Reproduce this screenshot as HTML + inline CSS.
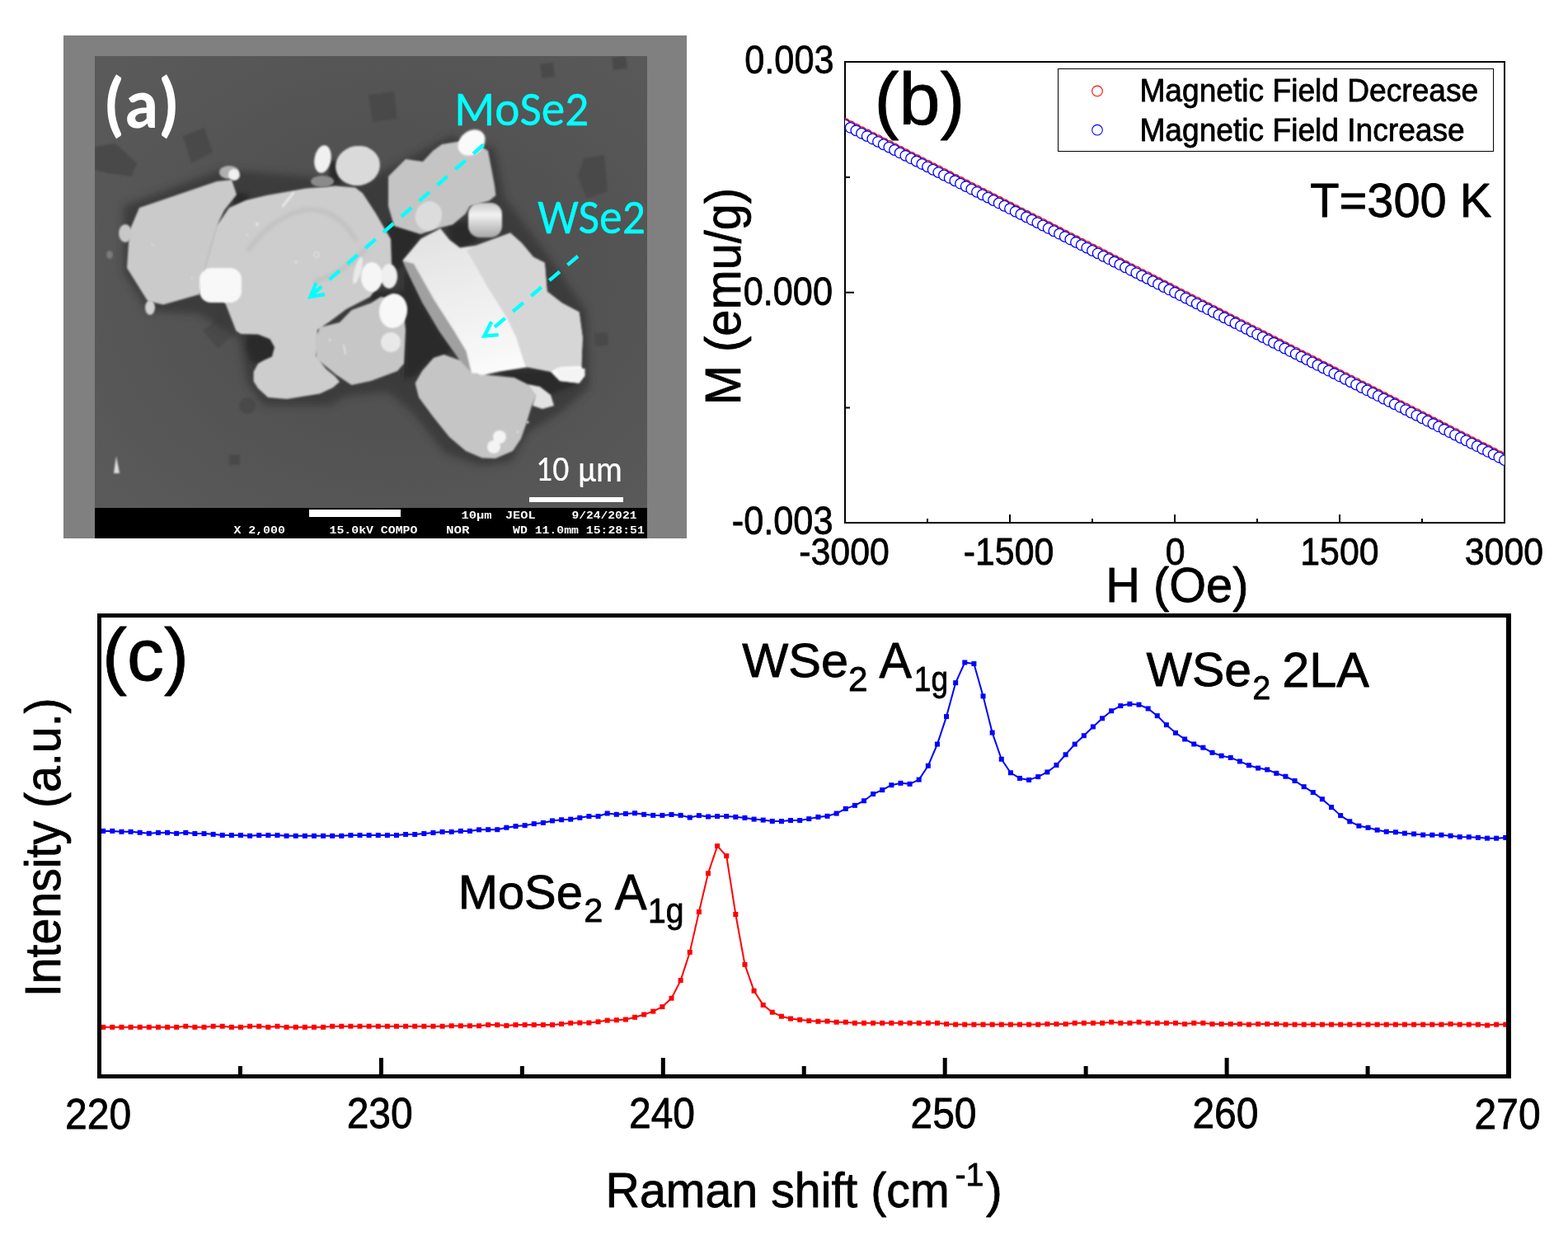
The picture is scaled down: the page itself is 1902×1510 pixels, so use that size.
<!DOCTYPE html>
<html><head><meta charset="utf-8"><title>figure</title><style>html,body{margin:0;padding:0;background:#fff;}svg{display:block;}</style></head><body>
<svg width="1902" height="1510" viewBox="0 0 1902 1510">
<rect width="1902" height="1510" fill="#fff"/>
<defs>
<clipPath id="clipb"><rect x="1025" y="75" width="800" height="559"/></clipPath>
<clipPath id="clipc"><rect x="120.5" y="746" width="1709" height="560"/></clipPath>
<clipPath id="clipa"><rect x="115" y="68" width="670" height="548"/></clipPath>
<filter id="bl1" x="-20%" y="-20%" width="140%" height="140%"><feGaussianBlur stdDeviation="1.1"/></filter>
<filter id="bl2" x="-30%" y="-30%" width="160%" height="160%"><feGaussianBlur stdDeviation="2.5"/></filter>
<filter id="bl4" x="-50%" y="-50%" width="200%" height="200%"><feGaussianBlur stdDeviation="5"/></filter>
</defs>
<rect x="77" y="43" width="756" height="610" fill="#808080"/>
<rect x="115" y="68" width="670" height="585" fill="#575757"/>
<g clip-path="url(#clipa)"><defs><linearGradient id="gE" x1="0" y1="0" x2="0.3" y2="1"><stop offset="0" stop-color="#e0e0e0"/><stop offset="0.5" stop-color="#eeeeee"/><stop offset="1" stop-color="#fbfbfb"/></linearGradient><linearGradient id="gW8" x1="0" y1="0" x2="0" y2="1"><stop offset="0" stop-color="#c8c8c8"/><stop offset="0.35" stop-color="#f2f2f2"/><stop offset="0.7" stop-color="#c8c8c8"/><stop offset="1" stop-color="#a8a8a8"/></linearGradient><radialGradient id="gBG" cx="0.55" cy="0.5" r="0.7"><stop offset="0" stop-color="#4c4c4c"/><stop offset="0.6" stop-color="#545454"/><stop offset="1" stop-color="#5a5a5a"/></radialGradient></defs>
<rect x="115" y="68" width="670" height="548" fill="url(#gBG)"/>
<g fill="#4a4a4a" filter="url(#bl1)"><polygon points="222.0,165.0 248.0,155.0 258.0,185.0 232.0,198.0"/><polygon points="447.0,115.0 478.0,111.0 482.0,144.0 452.0,148.0"/><polygon points="655.0,78.0 671.0,76.0 673.0,93.0 657.0,95.0"/><polygon points="708.0,192.0 733.0,188.0 737.0,232.0 712.0,241.0 701.0,215.0"/><polygon points="742.0,70.0 759.0,68.0 761.0,83.0 744.0,85.0"/><polygon points="246.0,401.0 266.0,384.0 285.0,404.0 265.0,423.0"/><polygon points="721.0,404.0 737.0,403.0 738.0,419.0 722.0,420.0"/><polygon points="278.0,552.0 291.0,551.0 291.0,564.0 278.0,564.0"/><polygon points="115.0,178.0 140.0,174.0 166.0,198.0 160.0,214.0 130.0,210.0 115.0,206.0"/><circle cx="300" cy="492" r="10"/></g>
<polygon points="150.0,250.0 270.0,205.0 380.0,215.0 440.0,222.0 470.0,205.0 545.0,165.0 600.0,180.0 612.0,240.0 665.0,310.0 712.0,378.0 715.0,470.0 680.0,500.0 640.0,525.0 620.0,560.0 585.0,565.0 540.0,550.0 500.0,500.0 470.0,475.0 420.0,480.0 400.0,492.0 320.0,492.0 300.0,465.0 290.0,410.0 240.0,380.0 180.0,378.0 150.0,330.0" fill="#363636" filter="url(#bl4)" opacity="0.75"/>
<g fill="#2c2c2c" filter="url(#bl2)"><polygon points="470.0,268.0 505.0,272.0 512.0,282.0 494.0,320.0 480.0,330.0 472.0,320.0"/><polygon points="490.0,328.0 497.0,335.0 512.8,367.6 533.0,401.4 548.8,424.0 538.0,432.0 520.0,440.0 505.0,455.0 490.0,460.0 490.0,400.0"/><polygon points="600.0,448.0 672.0,448.0 700.0,466.0 660.0,482.0 630.0,470.0"/><polygon points="300.0,404.0 325.0,406.0 338.0,420.0 335.0,438.0 318.0,444.0 304.0,438.0 298.0,420.0"/><polygon points="542.0,270.0 574.0,268.0 580.0,292.0 560.0,300.0 546.0,292.0"/><polygon points="283.0,232.0 302.0,236.0 298.0,252.0 283.0,252.0"/><polygon points="398.0,195.0 414.0,195.0 414.0,224.0 400.0,224.0"/><polygon points="440.0,355.0 495.0,352.0 495.0,362.0 450.0,364.0"/></g>
<g filter="url(#bl1)"><polygon points="169.0,252.0 263.0,220.0 281.0,218.0 287.0,236.0 272.0,255.0 263.0,274.0 253.0,310.0 248.0,327.0 242.0,357.0 198.0,369.5 179.0,365.0 154.0,325.0 157.0,280.0" fill="#cacaca"/><polygon points="278.0,252.0 298.0,243.0 323.0,237.0 371.0,228.6 407.0,225.6 431.0,227.4 440.0,234.6 456.0,259.0 468.0,280.0 474.0,290.0 475.0,320.0 470.0,330.0 449.0,360.0 420.0,375.0 400.0,390.0 385.0,400.0 383.0,432.0 396.0,448.0 406.0,456.0 412.0,463.0 404.0,470.0 388.0,477.6 348.0,484.0 325.0,482.0 313.0,471.0 307.6,462.4 307.6,451.0 313.0,441.0 320.0,437.0 330.0,432.5 333.0,421.0 327.5,411.2 313.0,405.6 292.0,405.0 286.4,401.3 274.0,369.5 248.0,327.0 253.0,310.0 263.0,274.0" fill="#cdcdcd"/><polygon points="388.0,397.0 412.0,391.0 426.5,376.0 450.0,367.4 462.0,360.0 488.0,365.0 492.0,400.0 490.0,441.0 482.0,450.0 450.0,462.0 426.5,467.0 407.4,454.3 384.0,435.0 382.0,412.0" fill="#c6c6c6"/><polygon points="471.0,214.0 492.0,193.0 513.0,196.0 525.0,183.0 536.0,175.0 554.0,172.0 572.0,170.0 592.0,183.0 600.0,225.0 601.4,237.0 593.6,243.6 570.0,250.0 564.6,259.4 549.0,272.5 532.0,276.5 510.0,284.0 478.0,274.0 471.0,250.0" fill="#c4c4c4"/><polygon points="503.6,464.7 512.0,450.0 525.9,434.0 538.4,430.0 557.9,436.9 577.4,453.6 623.8,458.0 640.0,466.0 650.0,480.0 645.0,492.0 638.0,515.0 632.0,532.0 622.0,547.0 601.0,556.0 585.0,555.5 565.0,547.0 545.0,530.0 525.0,505.0 508.0,482.0" fill="#c5c5c5"/><polygon points="488.3,315.9 510.6,289.5 534.2,277.0 545.4,290.9 557.9,300.6 577.4,297.8 619.0,282.5 633.0,295.0 646.9,311.7 660.8,318.7 663.6,353.4 681.7,367.4 702.5,378.5 706.7,409.1 705.3,443.9 709.5,455.0 702.5,464.7 678.9,461.9 667.8,450.8 640.0,445.2 605.2,450.8 585.7,455.0 571.8,452.0 560.0,440.0 548.8,424.0 533.0,401.4 512.8,367.6 497.0,335.0" fill="url(#gE)"/><polygon points="577.4,297.8 619.0,282.5 633.0,295.0 646.9,311.7 660.8,318.7 663.6,353.4 681.7,367.4 702.5,378.5 706.7,409.1 705.3,443.9 680.0,445.0 667.8,450.8 640.0,445.2 637.2,443.9 626.0,409.1 616.3,388.2 605.2,370.1 591.3,347.9 577.4,322.8 566.0,304.0" fill="#d6d6d6"/><polygon points="488.3,315.9 497.0,335.0 512.8,367.6 533.0,401.4 548.8,424.0 560.0,440.0 571.8,452.0 571.4,449.8 565.7,426.0 551.0,401.4 526.3,363.0 502.0,320.0" fill="#a0a0a0"/><polygon points="640,466 655,469 668,479 672,492 658,496 646,492 650,480" fill="#e2e2e2"/><polygon points="674.7,446 709.5,447 709.5,456 702.5,464.7 678.9,461.9" fill="#f4f4f4"/></g>
<path d="M300,305 Q330,262 372,254 Q410,252 432,292" fill="none" stroke="#bdbdbd" stroke-width="4" filter="url(#bl2)"/>
<path d="M445,300 Q420,330 380,342" fill="none" stroke="#bdbdbd" stroke-width="4" filter="url(#bl2)"/>
<g filter="url(#bl1)"><rect x="242" y="325" width="51" height="42" rx="14" fill="#f8f8f8"/><ellipse cx="572" cy="173" rx="14" ry="18" fill="#fafafa" transform="rotate(50 572 173)"/><ellipse cx="451" cy="336" rx="13" ry="18" fill="#f6f6f6"/><ellipse cx="434" cy="328" rx="4" ry="17" fill="#eaeaea" transform="rotate(15 434 328)"/><ellipse cx="472" cy="335" rx="10" ry="15" fill="#efefef"/><ellipse cx="477" cy="377" rx="17" ry="21" fill="#f8f8f8" transform="rotate(8 477 377)"/><ellipse cx="474" cy="415" rx="12" ry="12" fill="#e8e8e8"/><ellipse cx="391.5" cy="193" rx="10" ry="17" fill="#f0f0f0" transform="rotate(10 391.5 193)"/><ellipse cx="434" cy="201" rx="27" ry="24" fill="#dadada" transform="rotate(-10 434 201)"/><rect x="568" y="246" width="41" height="42" rx="14" fill="url(#gW8)"/><ellipse cx="606" cy="530" rx="8" ry="8" fill="#f4f4f4"/><ellipse cx="599" cy="542" rx="8" ry="8" fill="#f4f4f4"/><ellipse cx="152" cy="283" rx="8" ry="11" fill="#c8c8c8"/><ellipse cx="182" cy="373" rx="6" ry="9" fill="#d2d2d2"/><ellipse cx="391" cy="220" rx="14" ry="7" fill="#8a8a8a"/><ellipse cx="278" cy="209" rx="12" ry="8" fill="#b0b0b0"/><ellipse cx="284" cy="212" rx="7" ry="7" fill="#f0f0f0"/><ellipse cx="133" cy="309" rx="4" ry="5" fill="#7a7a7a"/><polygon points="138,574 141,553 145,574" fill="#e0e0e0"/><ellipse cx="520" cy="262" rx="16" ry="18" fill="#dcdcdc" transform="rotate(20 520 262)"/></g>
<g filter="url(#bl1)"><circle cx="312" cy="272" r="2" fill="#e6e6e6"/><circle cx="359" cy="318" r="1.6" fill="#e8e8e8"/><circle cx="185" cy="297" r="1.5" fill="#dcdcdc"/><circle cx="400" cy="412" r="1.6" fill="#e0e0e0"/><circle cx="640" cy="512" r="1.6" fill="#e6e6e6"/><circle cx="628" cy="524" r="1.3" fill="#e6e6e6"/><circle cx="300" cy="285" r="1.5" fill="#dddddd"/><circle cx="233" cy="337" r="1.5" fill="#dddddd"/><circle cx="384" cy="309" r="3.2" fill="none" stroke="#e2e2e2" stroke-width="1.2"/><line x1="343" y1="250" x2="356" y2="234" stroke="#ececec" stroke-width="2.6" stroke-linecap="round"/><line x1="417" y1="418" x2="419" y2="430" stroke="#e4e4e4" stroke-width="1.6"/></g>
<line x1="586.5" y1="175.5" x2="378" y2="358" stroke="#00ffff" stroke-width="4.4" stroke-dasharray="16.5 12.5"/>
<polyline points="383.5,343 376.5,360 394,357" fill="none" stroke="#00ffff" stroke-width="4.4" stroke-linejoin="miter"/>
<line x1="701" y1="310.7" x2="589" y2="406" stroke="#00ffff" stroke-width="4.4" stroke-dasharray="16.5 12.5"/>
<polyline points="596.2,390.2 587.5,407.5 604.7,406.1" fill="none" stroke="#00ffff" stroke-width="4.4" stroke-linejoin="miter"/></g>
<rect x="115" y="616" width="670" height="37" fill="#000"/>
<rect x="375" y="618" width="111" height="9" fill="#fff"/>
<rect x="642" y="603" width="114" height="6" fill="#fff"/>
<g fill="none" stroke="#000" stroke-width="2">
<rect x="1025" y="75" width="800" height="559"/>
</g>
<path d="M1025.0,634V624 M1225.0,634V624 M1425.0,634V624 M1625.0,634V624 M1825.0,634V624 M1125.0,634V629 M1325.0,634V629 M1525.0,634V629 M1725.0,634V629 M1025,75.0H1036 M1025,354.8H1036 M1025,634.0H1036 M1025,214.9H1031 M1025,494.6H1031" stroke="#000" stroke-width="2" fill="none"/>
<g clip-path="url(#clipb)">
<g fill="#fff" stroke="#ff0000" stroke-width="1.3"><circle cx="1025.00" cy="149.92" r="6.3"/><circle cx="1031.67" cy="153.31" r="6.3"/><circle cx="1038.33" cy="156.70" r="6.3"/><circle cx="1045.00" cy="160.08" r="6.3"/><circle cx="1051.67" cy="163.47" r="6.3"/><circle cx="1058.33" cy="166.86" r="6.3"/><circle cx="1065.00" cy="170.25" r="6.3"/><circle cx="1071.67" cy="173.64" r="6.3"/><circle cx="1078.33" cy="177.02" r="6.3"/><circle cx="1085.00" cy="180.41" r="6.3"/><circle cx="1091.67" cy="183.80" r="6.3"/><circle cx="1098.33" cy="187.19" r="6.3"/><circle cx="1105.00" cy="190.58" r="6.3"/><circle cx="1111.67" cy="193.96" r="6.3"/><circle cx="1118.33" cy="197.35" r="6.3"/><circle cx="1125.00" cy="200.74" r="6.3"/><circle cx="1131.67" cy="204.13" r="6.3"/><circle cx="1138.33" cy="207.52" r="6.3"/><circle cx="1145.00" cy="210.90" r="6.3"/><circle cx="1151.67" cy="214.29" r="6.3"/><circle cx="1158.33" cy="217.68" r="6.3"/><circle cx="1165.00" cy="221.07" r="6.3"/><circle cx="1171.67" cy="224.46" r="6.3"/><circle cx="1178.33" cy="227.84" r="6.3"/><circle cx="1185.00" cy="231.23" r="6.3"/><circle cx="1191.67" cy="234.62" r="6.3"/><circle cx="1198.33" cy="238.01" r="6.3"/><circle cx="1205.00" cy="241.40" r="6.3"/><circle cx="1211.67" cy="244.78" r="6.3"/><circle cx="1218.33" cy="248.17" r="6.3"/><circle cx="1225.00" cy="251.56" r="6.3"/><circle cx="1231.67" cy="254.95" r="6.3"/><circle cx="1238.33" cy="258.34" r="6.3"/><circle cx="1245.00" cy="261.72" r="6.3"/><circle cx="1251.67" cy="265.11" r="6.3"/><circle cx="1258.33" cy="268.50" r="6.3"/><circle cx="1265.00" cy="271.89" r="6.3"/><circle cx="1271.67" cy="275.28" r="6.3"/><circle cx="1278.33" cy="278.66" r="6.3"/><circle cx="1285.00" cy="282.05" r="6.3"/><circle cx="1291.67" cy="285.44" r="6.3"/><circle cx="1298.33" cy="288.83" r="6.3"/><circle cx="1305.00" cy="292.22" r="6.3"/><circle cx="1311.67" cy="295.60" r="6.3"/><circle cx="1318.33" cy="298.99" r="6.3"/><circle cx="1325.00" cy="302.38" r="6.3"/><circle cx="1331.67" cy="305.77" r="6.3"/><circle cx="1338.33" cy="309.16" r="6.3"/><circle cx="1345.00" cy="312.54" r="6.3"/><circle cx="1351.67" cy="315.93" r="6.3"/><circle cx="1358.33" cy="319.32" r="6.3"/><circle cx="1365.00" cy="322.71" r="6.3"/><circle cx="1371.67" cy="326.10" r="6.3"/><circle cx="1378.33" cy="329.48" r="6.3"/><circle cx="1385.00" cy="332.87" r="6.3"/><circle cx="1391.67" cy="336.26" r="6.3"/><circle cx="1398.33" cy="339.65" r="6.3"/><circle cx="1405.00" cy="343.04" r="6.3"/><circle cx="1411.67" cy="346.42" r="6.3"/><circle cx="1418.33" cy="349.81" r="6.3"/><circle cx="1425.00" cy="353.20" r="6.3"/><circle cx="1431.67" cy="356.59" r="6.3"/><circle cx="1438.33" cy="359.98" r="6.3"/><circle cx="1445.00" cy="363.36" r="6.3"/><circle cx="1451.67" cy="366.75" r="6.3"/><circle cx="1458.33" cy="370.14" r="6.3"/><circle cx="1465.00" cy="373.53" r="6.3"/><circle cx="1471.67" cy="376.92" r="6.3"/><circle cx="1478.33" cy="380.30" r="6.3"/><circle cx="1485.00" cy="383.69" r="6.3"/><circle cx="1491.67" cy="387.08" r="6.3"/><circle cx="1498.33" cy="390.47" r="6.3"/><circle cx="1505.00" cy="393.86" r="6.3"/><circle cx="1511.67" cy="397.24" r="6.3"/><circle cx="1518.33" cy="400.63" r="6.3"/><circle cx="1525.00" cy="404.02" r="6.3"/><circle cx="1531.67" cy="407.41" r="6.3"/><circle cx="1538.33" cy="410.80" r="6.3"/><circle cx="1545.00" cy="414.18" r="6.3"/><circle cx="1551.67" cy="417.57" r="6.3"/><circle cx="1558.33" cy="420.96" r="6.3"/><circle cx="1565.00" cy="424.35" r="6.3"/><circle cx="1571.67" cy="427.74" r="6.3"/><circle cx="1578.33" cy="431.12" r="6.3"/><circle cx="1585.00" cy="434.51" r="6.3"/><circle cx="1591.67" cy="437.90" r="6.3"/><circle cx="1598.33" cy="441.29" r="6.3"/><circle cx="1605.00" cy="444.68" r="6.3"/><circle cx="1611.67" cy="448.06" r="6.3"/><circle cx="1618.33" cy="451.45" r="6.3"/><circle cx="1625.00" cy="454.84" r="6.3"/><circle cx="1631.67" cy="458.23" r="6.3"/><circle cx="1638.33" cy="461.62" r="6.3"/><circle cx="1645.00" cy="465.00" r="6.3"/><circle cx="1651.67" cy="468.39" r="6.3"/><circle cx="1658.33" cy="471.78" r="6.3"/><circle cx="1665.00" cy="475.17" r="6.3"/><circle cx="1671.67" cy="478.56" r="6.3"/><circle cx="1678.33" cy="481.94" r="6.3"/><circle cx="1685.00" cy="485.33" r="6.3"/><circle cx="1691.67" cy="488.72" r="6.3"/><circle cx="1698.33" cy="492.11" r="6.3"/><circle cx="1705.00" cy="495.50" r="6.3"/><circle cx="1711.67" cy="498.88" r="6.3"/><circle cx="1718.33" cy="502.27" r="6.3"/><circle cx="1725.00" cy="505.66" r="6.3"/><circle cx="1731.67" cy="509.05" r="6.3"/><circle cx="1738.33" cy="512.44" r="6.3"/><circle cx="1745.00" cy="515.82" r="6.3"/><circle cx="1751.67" cy="519.21" r="6.3"/><circle cx="1758.33" cy="522.60" r="6.3"/><circle cx="1765.00" cy="525.99" r="6.3"/><circle cx="1771.67" cy="529.38" r="6.3"/><circle cx="1778.33" cy="532.76" r="6.3"/><circle cx="1785.00" cy="536.15" r="6.3"/><circle cx="1791.67" cy="539.54" r="6.3"/><circle cx="1798.33" cy="542.93" r="6.3"/><circle cx="1805.00" cy="546.32" r="6.3"/><circle cx="1811.67" cy="549.70" r="6.3"/><circle cx="1818.33" cy="553.09" r="6.3"/><circle cx="1825.00" cy="556.48" r="6.3"/></g>
<g fill="#fff" stroke="#0000ff" stroke-width="1.3"><circle cx="1025.00" cy="151.52" r="6.3"/><circle cx="1031.67" cy="154.91" r="6.3"/><circle cx="1038.33" cy="158.30" r="6.3"/><circle cx="1045.00" cy="161.68" r="6.3"/><circle cx="1051.67" cy="165.07" r="6.3"/><circle cx="1058.33" cy="168.46" r="6.3"/><circle cx="1065.00" cy="171.85" r="6.3"/><circle cx="1071.67" cy="175.24" r="6.3"/><circle cx="1078.33" cy="178.62" r="6.3"/><circle cx="1085.00" cy="182.01" r="6.3"/><circle cx="1091.67" cy="185.40" r="6.3"/><circle cx="1098.33" cy="188.79" r="6.3"/><circle cx="1105.00" cy="192.18" r="6.3"/><circle cx="1111.67" cy="195.56" r="6.3"/><circle cx="1118.33" cy="198.95" r="6.3"/><circle cx="1125.00" cy="202.34" r="6.3"/><circle cx="1131.67" cy="205.73" r="6.3"/><circle cx="1138.33" cy="209.12" r="6.3"/><circle cx="1145.00" cy="212.50" r="6.3"/><circle cx="1151.67" cy="215.89" r="6.3"/><circle cx="1158.33" cy="219.28" r="6.3"/><circle cx="1165.00" cy="222.67" r="6.3"/><circle cx="1171.67" cy="226.06" r="6.3"/><circle cx="1178.33" cy="229.44" r="6.3"/><circle cx="1185.00" cy="232.83" r="6.3"/><circle cx="1191.67" cy="236.22" r="6.3"/><circle cx="1198.33" cy="239.61" r="6.3"/><circle cx="1205.00" cy="243.00" r="6.3"/><circle cx="1211.67" cy="246.38" r="6.3"/><circle cx="1218.33" cy="249.77" r="6.3"/><circle cx="1225.00" cy="253.16" r="6.3"/><circle cx="1231.67" cy="256.55" r="6.3"/><circle cx="1238.33" cy="259.94" r="6.3"/><circle cx="1245.00" cy="263.32" r="6.3"/><circle cx="1251.67" cy="266.71" r="6.3"/><circle cx="1258.33" cy="270.10" r="6.3"/><circle cx="1265.00" cy="273.49" r="6.3"/><circle cx="1271.67" cy="276.88" r="6.3"/><circle cx="1278.33" cy="280.26" r="6.3"/><circle cx="1285.00" cy="283.65" r="6.3"/><circle cx="1291.67" cy="287.04" r="6.3"/><circle cx="1298.33" cy="290.43" r="6.3"/><circle cx="1305.00" cy="293.82" r="6.3"/><circle cx="1311.67" cy="297.20" r="6.3"/><circle cx="1318.33" cy="300.59" r="6.3"/><circle cx="1325.00" cy="303.98" r="6.3"/><circle cx="1331.67" cy="307.37" r="6.3"/><circle cx="1338.33" cy="310.76" r="6.3"/><circle cx="1345.00" cy="314.14" r="6.3"/><circle cx="1351.67" cy="317.53" r="6.3"/><circle cx="1358.33" cy="320.92" r="6.3"/><circle cx="1365.00" cy="324.31" r="6.3"/><circle cx="1371.67" cy="327.70" r="6.3"/><circle cx="1378.33" cy="331.08" r="6.3"/><circle cx="1385.00" cy="334.47" r="6.3"/><circle cx="1391.67" cy="337.86" r="6.3"/><circle cx="1398.33" cy="341.25" r="6.3"/><circle cx="1405.00" cy="344.64" r="6.3"/><circle cx="1411.67" cy="348.02" r="6.3"/><circle cx="1418.33" cy="351.41" r="6.3"/><circle cx="1425.00" cy="354.80" r="6.3"/><circle cx="1431.67" cy="358.19" r="6.3"/><circle cx="1438.33" cy="361.58" r="6.3"/><circle cx="1445.00" cy="364.96" r="6.3"/><circle cx="1451.67" cy="368.35" r="6.3"/><circle cx="1458.33" cy="371.74" r="6.3"/><circle cx="1465.00" cy="375.13" r="6.3"/><circle cx="1471.67" cy="378.52" r="6.3"/><circle cx="1478.33" cy="381.90" r="6.3"/><circle cx="1485.00" cy="385.29" r="6.3"/><circle cx="1491.67" cy="388.68" r="6.3"/><circle cx="1498.33" cy="392.07" r="6.3"/><circle cx="1505.00" cy="395.46" r="6.3"/><circle cx="1511.67" cy="398.84" r="6.3"/><circle cx="1518.33" cy="402.23" r="6.3"/><circle cx="1525.00" cy="405.62" r="6.3"/><circle cx="1531.67" cy="409.01" r="6.3"/><circle cx="1538.33" cy="412.40" r="6.3"/><circle cx="1545.00" cy="415.78" r="6.3"/><circle cx="1551.67" cy="419.17" r="6.3"/><circle cx="1558.33" cy="422.56" r="6.3"/><circle cx="1565.00" cy="425.95" r="6.3"/><circle cx="1571.67" cy="429.34" r="6.3"/><circle cx="1578.33" cy="432.72" r="6.3"/><circle cx="1585.00" cy="436.11" r="6.3"/><circle cx="1591.67" cy="439.50" r="6.3"/><circle cx="1598.33" cy="442.89" r="6.3"/><circle cx="1605.00" cy="446.28" r="6.3"/><circle cx="1611.67" cy="449.66" r="6.3"/><circle cx="1618.33" cy="453.05" r="6.3"/><circle cx="1625.00" cy="456.44" r="6.3"/><circle cx="1631.67" cy="459.83" r="6.3"/><circle cx="1638.33" cy="463.22" r="6.3"/><circle cx="1645.00" cy="466.60" r="6.3"/><circle cx="1651.67" cy="469.99" r="6.3"/><circle cx="1658.33" cy="473.38" r="6.3"/><circle cx="1665.00" cy="476.77" r="6.3"/><circle cx="1671.67" cy="480.16" r="6.3"/><circle cx="1678.33" cy="483.54" r="6.3"/><circle cx="1685.00" cy="486.93" r="6.3"/><circle cx="1691.67" cy="490.32" r="6.3"/><circle cx="1698.33" cy="493.71" r="6.3"/><circle cx="1705.00" cy="497.10" r="6.3"/><circle cx="1711.67" cy="500.48" r="6.3"/><circle cx="1718.33" cy="503.87" r="6.3"/><circle cx="1725.00" cy="507.26" r="6.3"/><circle cx="1731.67" cy="510.65" r="6.3"/><circle cx="1738.33" cy="514.04" r="6.3"/><circle cx="1745.00" cy="517.42" r="6.3"/><circle cx="1751.67" cy="520.81" r="6.3"/><circle cx="1758.33" cy="524.20" r="6.3"/><circle cx="1765.00" cy="527.59" r="6.3"/><circle cx="1771.67" cy="530.98" r="6.3"/><circle cx="1778.33" cy="534.36" r="6.3"/><circle cx="1785.00" cy="537.75" r="6.3"/><circle cx="1791.67" cy="541.14" r="6.3"/><circle cx="1798.33" cy="544.53" r="6.3"/><circle cx="1805.00" cy="547.92" r="6.3"/><circle cx="1811.67" cy="551.30" r="6.3"/><circle cx="1818.33" cy="554.69" r="6.3"/><circle cx="1825.00" cy="558.08" r="6.3"/></g>
</g>
<rect x="1283.5" y="83.5" width="528" height="100" fill="none" stroke="#000" stroke-width="1"/>
<circle cx="1331" cy="110.4" r="6.3" fill="none" stroke="#ff0000" stroke-width="1.1"/>
<circle cx="1331" cy="157.7" r="6.3" fill="none" stroke="#0000ff" stroke-width="1.1"/>
<polyline points="125.20,1245.80 136.32,1245.80 147.44,1245.80 158.55,1245.80 169.67,1245.80 180.79,1245.80 191.91,1245.80 203.03,1245.80 214.14,1245.80 225.26,1244.70 236.38,1245.80 247.50,1245.80 258.62,1244.70 269.73,1244.70 280.85,1245.80 291.97,1245.80 303.09,1244.70 314.21,1244.70 325.32,1245.80 336.44,1244.70 347.56,1245.80 358.68,1245.80 369.80,1245.80 380.91,1245.80 392.03,1245.80 403.15,1244.70 414.27,1244.70 425.39,1244.70 436.50,1244.70 447.62,1244.70 458.74,1244.70 469.86,1244.70 480.98,1244.70 492.09,1244.70 503.21,1244.70 514.33,1244.70 525.45,1244.70 536.57,1244.70 547.68,1244.20 558.80,1244.20 569.92,1244.20 581.04,1244.20 592.16,1243.00 603.27,1243.00 614.39,1243.90 625.51,1243.00 636.63,1243.00 647.75,1243.00 658.86,1243.00 669.98,1243.00 681.10,1241.90 692.22,1240.80 703.34,1240.50 714.45,1240.50 725.57,1239.30 736.69,1237.60 747.81,1237.20 758.93,1236.50 770.04,1233.80 781.16,1230.50 792.28,1226.60 803.40,1221.10 814.52,1210.70 825.63,1189.10 836.75,1154.90 847.87,1106.00 858.99,1059.30 870.11,1026.10 881.22,1038.10 892.34,1109.00 903.46,1169.80 914.58,1201.70 925.70,1218.90 936.81,1227.70 947.93,1232.70 959.05,1235.50 970.17,1236.80 981.29,1238.10 992.40,1238.80 1003.52,1238.60 1014.64,1239.70 1025.76,1239.70 1036.88,1240.80 1047.99,1240.80 1059.11,1240.80 1070.23,1240.80 1081.35,1240.80 1092.47,1240.80 1103.58,1240.80 1114.70,1240.80 1125.82,1240.80 1136.94,1240.80 1148.06,1242.00 1159.17,1242.60 1170.29,1242.60 1181.41,1242.60 1192.53,1242.60 1203.65,1242.60 1214.76,1242.60 1225.88,1242.60 1237.00,1242.60 1248.12,1242.60 1259.24,1242.60 1270.35,1242.00 1281.47,1242.00 1292.59,1242.00 1303.71,1240.80 1314.83,1240.80 1325.94,1240.80 1337.06,1240.80 1348.18,1239.70 1359.30,1240.80 1370.42,1240.80 1381.53,1239.70 1392.65,1240.80 1403.77,1240.80 1414.89,1240.80 1426.01,1240.80 1437.12,1242.00 1448.24,1240.80 1459.36,1240.80 1470.48,1242.00 1481.60,1242.00 1492.71,1242.00 1503.83,1242.00 1514.95,1242.60 1526.07,1242.00 1537.19,1242.00 1548.30,1242.00 1559.42,1242.60 1570.54,1242.60 1581.66,1242.60 1592.78,1242.60 1603.89,1242.60 1615.01,1242.60 1626.13,1242.60 1637.25,1242.60 1648.37,1242.60 1659.48,1242.60 1670.60,1242.60 1681.72,1242.60 1692.84,1242.60 1703.96,1242.60 1715.07,1242.60 1726.19,1242.60 1737.31,1242.60 1748.43,1242.60 1759.55,1242.00 1770.66,1242.60 1781.78,1242.60 1792.90,1242.60 1804.02,1243.50 1815.14,1242.60 1826.25,1242.60" fill="none" stroke="#ff0000" stroke-width="2" stroke-linejoin="round"/>
<polyline points="125.20,1007.90 136.32,1007.90 147.44,1008.79 158.55,1008.80 169.67,1009.76 180.79,1010.80 191.91,1009.89 203.03,1009.80 214.14,1010.83 225.26,1009.85 236.38,1011.03 247.50,1011.10 258.62,1011.87 269.73,1012.92 280.85,1013.00 291.97,1013.00 303.09,1013.74 314.21,1013.04 325.32,1013.00 336.44,1013.00 347.56,1013.78 358.68,1013.80 369.80,1013.80 380.91,1013.80 392.03,1013.80 403.15,1013.80 414.27,1013.80 425.39,1013.03 436.50,1013.00 447.62,1013.00 458.74,1013.00 469.86,1013.00 480.98,1013.00 492.09,1011.98 503.21,1011.99 514.33,1011.03 525.45,1010.02 536.57,1008.92 547.68,1008.90 558.80,1007.91 569.92,1007.90 581.04,1006.35 592.16,1006.20 603.27,1006.20 614.39,1003.74 625.51,1002.10 636.63,1001.15 647.75,999.11 658.86,997.90 669.98,995.44 681.10,994.27 692.22,993.65 703.34,991.82 714.45,990.07 725.57,990.00 736.69,986.50 747.81,987.77 758.93,986.90 770.04,986.25 781.16,987.80 792.28,988.86 803.40,988.90 814.52,987.93 825.63,988.87 836.75,991.52 847.87,989.11 858.99,990.50 870.11,990.04 881.22,990.00 892.34,990.87 903.46,991.89 914.58,993.58 925.70,994.59 936.81,995.98 947.93,996.10 959.05,995.04 970.17,995.00 981.29,993.13 992.40,990.90 1003.52,989.85 1014.64,986.58 1025.76,980.84 1036.88,976.85 1047.99,971.26 1059.11,963.02 1070.23,958.12 1081.35,952.20 1092.47,949.86 1103.58,950.86 1114.70,945.60 1125.82,928.78 1136.94,902.59 1148.06,869.07 1159.17,828.16 1170.29,803.50 1181.41,805.00 1192.53,844.34 1203.65,888.59 1214.76,920.74 1225.88,937.25 1237.00,943.93 1248.12,945.91 1259.24,942.10 1270.35,936.43 1281.47,927.92 1292.59,915.28 1303.71,902.60 1314.83,892.22 1325.94,881.43 1337.06,871.26 1348.18,862.20 1359.30,856.07 1370.42,853.79 1381.53,854.65 1392.65,859.44 1403.77,868.14 1414.89,879.18 1426.01,888.86 1437.12,896.48 1448.24,902.46 1459.36,906.70 1470.48,912.80 1481.60,916.67 1492.71,918.86 1503.83,923.42 1514.95,928.24 1526.07,931.58 1537.19,933.46 1548.30,937.87 1559.42,941.73 1570.54,947.03 1581.66,954.18 1592.78,961.10 1603.89,969.25 1615.01,979.10 1626.13,989.12 1637.25,996.33 1648.37,1001.66 1659.48,1003.79 1670.60,1006.67 1681.72,1008.69 1692.84,1009.29 1703.96,1010.67 1715.07,1011.44 1726.19,1012.60 1737.31,1012.70 1748.43,1012.70 1759.55,1013.64 1770.66,1015.06 1781.78,1015.20 1792.90,1015.85 1804.02,1016.65 1815.14,1016.70 1826.25,1015.90" fill="none" stroke="#0000ff" stroke-width="2" stroke-linejoin="round"/>
<g fill="#ff0000"><rect x="122.20" y="1242.80" width="6" height="6"/><rect x="133.32" y="1242.80" width="6" height="6"/><rect x="144.44" y="1242.80" width="6" height="6"/><rect x="155.55" y="1242.80" width="6" height="6"/><rect x="166.67" y="1242.80" width="6" height="6"/><rect x="177.79" y="1242.80" width="6" height="6"/><rect x="188.91" y="1242.80" width="6" height="6"/><rect x="200.03" y="1242.80" width="6" height="6"/><rect x="211.14" y="1242.80" width="6" height="6"/><rect x="222.26" y="1241.70" width="6" height="6"/><rect x="233.38" y="1242.80" width="6" height="6"/><rect x="244.50" y="1242.80" width="6" height="6"/><rect x="255.62" y="1241.70" width="6" height="6"/><rect x="266.73" y="1241.70" width="6" height="6"/><rect x="277.85" y="1242.80" width="6" height="6"/><rect x="288.97" y="1242.80" width="6" height="6"/><rect x="300.09" y="1241.70" width="6" height="6"/><rect x="311.21" y="1241.70" width="6" height="6"/><rect x="322.32" y="1242.80" width="6" height="6"/><rect x="333.44" y="1241.70" width="6" height="6"/><rect x="344.56" y="1242.80" width="6" height="6"/><rect x="355.68" y="1242.80" width="6" height="6"/><rect x="366.80" y="1242.80" width="6" height="6"/><rect x="377.91" y="1242.80" width="6" height="6"/><rect x="389.03" y="1242.80" width="6" height="6"/><rect x="400.15" y="1241.70" width="6" height="6"/><rect x="411.27" y="1241.70" width="6" height="6"/><rect x="422.39" y="1241.70" width="6" height="6"/><rect x="433.50" y="1241.70" width="6" height="6"/><rect x="444.62" y="1241.70" width="6" height="6"/><rect x="455.74" y="1241.70" width="6" height="6"/><rect x="466.86" y="1241.70" width="6" height="6"/><rect x="477.98" y="1241.70" width="6" height="6"/><rect x="489.09" y="1241.70" width="6" height="6"/><rect x="500.21" y="1241.70" width="6" height="6"/><rect x="511.33" y="1241.70" width="6" height="6"/><rect x="522.45" y="1241.70" width="6" height="6"/><rect x="533.57" y="1241.70" width="6" height="6"/><rect x="544.68" y="1241.20" width="6" height="6"/><rect x="555.80" y="1241.20" width="6" height="6"/><rect x="566.92" y="1241.20" width="6" height="6"/><rect x="578.04" y="1241.20" width="6" height="6"/><rect x="589.16" y="1240.00" width="6" height="6"/><rect x="600.27" y="1240.00" width="6" height="6"/><rect x="611.39" y="1240.90" width="6" height="6"/><rect x="622.51" y="1240.00" width="6" height="6"/><rect x="633.63" y="1240.00" width="6" height="6"/><rect x="644.75" y="1240.00" width="6" height="6"/><rect x="655.86" y="1240.00" width="6" height="6"/><rect x="666.98" y="1240.00" width="6" height="6"/><rect x="678.10" y="1238.90" width="6" height="6"/><rect x="689.22" y="1237.80" width="6" height="6"/><rect x="700.34" y="1237.50" width="6" height="6"/><rect x="711.45" y="1237.50" width="6" height="6"/><rect x="722.57" y="1236.30" width="6" height="6"/><rect x="733.69" y="1234.60" width="6" height="6"/><rect x="744.81" y="1234.20" width="6" height="6"/><rect x="755.93" y="1233.50" width="6" height="6"/><rect x="767.04" y="1230.80" width="6" height="6"/><rect x="778.16" y="1227.50" width="6" height="6"/><rect x="789.28" y="1223.60" width="6" height="6"/><rect x="800.40" y="1218.10" width="6" height="6"/><rect x="811.52" y="1207.70" width="6" height="6"/><rect x="822.63" y="1186.10" width="6" height="6"/><rect x="833.75" y="1151.90" width="6" height="6"/><rect x="844.87" y="1103.00" width="6" height="6"/><rect x="855.99" y="1056.30" width="6" height="6"/><rect x="867.11" y="1023.10" width="6" height="6"/><rect x="878.22" y="1035.10" width="6" height="6"/><rect x="889.34" y="1106.00" width="6" height="6"/><rect x="900.46" y="1166.80" width="6" height="6"/><rect x="911.58" y="1198.70" width="6" height="6"/><rect x="922.70" y="1215.90" width="6" height="6"/><rect x="933.81" y="1224.70" width="6" height="6"/><rect x="944.93" y="1229.70" width="6" height="6"/><rect x="956.05" y="1232.50" width="6" height="6"/><rect x="967.17" y="1233.80" width="6" height="6"/><rect x="978.29" y="1235.10" width="6" height="6"/><rect x="989.40" y="1235.80" width="6" height="6"/><rect x="1000.52" y="1235.60" width="6" height="6"/><rect x="1011.64" y="1236.70" width="6" height="6"/><rect x="1022.76" y="1236.70" width="6" height="6"/><rect x="1033.88" y="1237.80" width="6" height="6"/><rect x="1044.99" y="1237.80" width="6" height="6"/><rect x="1056.11" y="1237.80" width="6" height="6"/><rect x="1067.23" y="1237.80" width="6" height="6"/><rect x="1078.35" y="1237.80" width="6" height="6"/><rect x="1089.47" y="1237.80" width="6" height="6"/><rect x="1100.58" y="1237.80" width="6" height="6"/><rect x="1111.70" y="1237.80" width="6" height="6"/><rect x="1122.82" y="1237.80" width="6" height="6"/><rect x="1133.94" y="1237.80" width="6" height="6"/><rect x="1145.06" y="1239.00" width="6" height="6"/><rect x="1156.17" y="1239.60" width="6" height="6"/><rect x="1167.29" y="1239.60" width="6" height="6"/><rect x="1178.41" y="1239.60" width="6" height="6"/><rect x="1189.53" y="1239.60" width="6" height="6"/><rect x="1200.65" y="1239.60" width="6" height="6"/><rect x="1211.76" y="1239.60" width="6" height="6"/><rect x="1222.88" y="1239.60" width="6" height="6"/><rect x="1234.00" y="1239.60" width="6" height="6"/><rect x="1245.12" y="1239.60" width="6" height="6"/><rect x="1256.24" y="1239.60" width="6" height="6"/><rect x="1267.35" y="1239.00" width="6" height="6"/><rect x="1278.47" y="1239.00" width="6" height="6"/><rect x="1289.59" y="1239.00" width="6" height="6"/><rect x="1300.71" y="1237.80" width="6" height="6"/><rect x="1311.83" y="1237.80" width="6" height="6"/><rect x="1322.94" y="1237.80" width="6" height="6"/><rect x="1334.06" y="1237.80" width="6" height="6"/><rect x="1345.18" y="1236.70" width="6" height="6"/><rect x="1356.30" y="1237.80" width="6" height="6"/><rect x="1367.42" y="1237.80" width="6" height="6"/><rect x="1378.53" y="1236.70" width="6" height="6"/><rect x="1389.65" y="1237.80" width="6" height="6"/><rect x="1400.77" y="1237.80" width="6" height="6"/><rect x="1411.89" y="1237.80" width="6" height="6"/><rect x="1423.01" y="1237.80" width="6" height="6"/><rect x="1434.12" y="1239.00" width="6" height="6"/><rect x="1445.24" y="1237.80" width="6" height="6"/><rect x="1456.36" y="1237.80" width="6" height="6"/><rect x="1467.48" y="1239.00" width="6" height="6"/><rect x="1478.60" y="1239.00" width="6" height="6"/><rect x="1489.71" y="1239.00" width="6" height="6"/><rect x="1500.83" y="1239.00" width="6" height="6"/><rect x="1511.95" y="1239.60" width="6" height="6"/><rect x="1523.07" y="1239.00" width="6" height="6"/><rect x="1534.19" y="1239.00" width="6" height="6"/><rect x="1545.30" y="1239.00" width="6" height="6"/><rect x="1556.42" y="1239.60" width="6" height="6"/><rect x="1567.54" y="1239.60" width="6" height="6"/><rect x="1578.66" y="1239.60" width="6" height="6"/><rect x="1589.78" y="1239.60" width="6" height="6"/><rect x="1600.89" y="1239.60" width="6" height="6"/><rect x="1612.01" y="1239.60" width="6" height="6"/><rect x="1623.13" y="1239.60" width="6" height="6"/><rect x="1634.25" y="1239.60" width="6" height="6"/><rect x="1645.37" y="1239.60" width="6" height="6"/><rect x="1656.48" y="1239.60" width="6" height="6"/><rect x="1667.60" y="1239.60" width="6" height="6"/><rect x="1678.72" y="1239.60" width="6" height="6"/><rect x="1689.84" y="1239.60" width="6" height="6"/><rect x="1700.96" y="1239.60" width="6" height="6"/><rect x="1712.07" y="1239.60" width="6" height="6"/><rect x="1723.19" y="1239.60" width="6" height="6"/><rect x="1734.31" y="1239.60" width="6" height="6"/><rect x="1745.43" y="1239.60" width="6" height="6"/><rect x="1756.55" y="1239.00" width="6" height="6"/><rect x="1767.66" y="1239.60" width="6" height="6"/><rect x="1778.78" y="1239.60" width="6" height="6"/><rect x="1789.90" y="1239.60" width="6" height="6"/><rect x="1801.02" y="1240.50" width="6" height="6"/><rect x="1812.14" y="1239.60" width="6" height="6"/><rect x="1823.25" y="1239.60" width="6" height="6"/></g>
<g fill="#0000ff"><rect x="122.20" y="1004.90" width="6" height="6"/><rect x="133.32" y="1004.90" width="6" height="6"/><rect x="144.44" y="1005.79" width="6" height="6"/><rect x="155.55" y="1005.80" width="6" height="6"/><rect x="166.67" y="1006.76" width="6" height="6"/><rect x="177.79" y="1007.80" width="6" height="6"/><rect x="188.91" y="1006.89" width="6" height="6"/><rect x="200.03" y="1006.80" width="6" height="6"/><rect x="211.14" y="1007.83" width="6" height="6"/><rect x="222.26" y="1006.85" width="6" height="6"/><rect x="233.38" y="1008.03" width="6" height="6"/><rect x="244.50" y="1008.10" width="6" height="6"/><rect x="255.62" y="1008.87" width="6" height="6"/><rect x="266.73" y="1009.92" width="6" height="6"/><rect x="277.85" y="1010.00" width="6" height="6"/><rect x="288.97" y="1010.00" width="6" height="6"/><rect x="300.09" y="1010.74" width="6" height="6"/><rect x="311.21" y="1010.04" width="6" height="6"/><rect x="322.32" y="1010.00" width="6" height="6"/><rect x="333.44" y="1010.00" width="6" height="6"/><rect x="344.56" y="1010.78" width="6" height="6"/><rect x="355.68" y="1010.80" width="6" height="6"/><rect x="366.80" y="1010.80" width="6" height="6"/><rect x="377.91" y="1010.80" width="6" height="6"/><rect x="389.03" y="1010.80" width="6" height="6"/><rect x="400.15" y="1010.80" width="6" height="6"/><rect x="411.27" y="1010.80" width="6" height="6"/><rect x="422.39" y="1010.03" width="6" height="6"/><rect x="433.50" y="1010.00" width="6" height="6"/><rect x="444.62" y="1010.00" width="6" height="6"/><rect x="455.74" y="1010.00" width="6" height="6"/><rect x="466.86" y="1010.00" width="6" height="6"/><rect x="477.98" y="1010.00" width="6" height="6"/><rect x="489.09" y="1008.98" width="6" height="6"/><rect x="500.21" y="1008.99" width="6" height="6"/><rect x="511.33" y="1008.03" width="6" height="6"/><rect x="522.45" y="1007.02" width="6" height="6"/><rect x="533.57" y="1005.92" width="6" height="6"/><rect x="544.68" y="1005.90" width="6" height="6"/><rect x="555.80" y="1004.91" width="6" height="6"/><rect x="566.92" y="1004.90" width="6" height="6"/><rect x="578.04" y="1003.35" width="6" height="6"/><rect x="589.16" y="1003.20" width="6" height="6"/><rect x="600.27" y="1003.20" width="6" height="6"/><rect x="611.39" y="1000.74" width="6" height="6"/><rect x="622.51" y="999.10" width="6" height="6"/><rect x="633.63" y="998.15" width="6" height="6"/><rect x="644.75" y="996.11" width="6" height="6"/><rect x="655.86" y="994.90" width="6" height="6"/><rect x="666.98" y="992.44" width="6" height="6"/><rect x="678.10" y="991.27" width="6" height="6"/><rect x="689.22" y="990.65" width="6" height="6"/><rect x="700.34" y="988.82" width="6" height="6"/><rect x="711.45" y="987.07" width="6" height="6"/><rect x="722.57" y="987.00" width="6" height="6"/><rect x="733.69" y="983.50" width="6" height="6"/><rect x="744.81" y="984.77" width="6" height="6"/><rect x="755.93" y="983.90" width="6" height="6"/><rect x="767.04" y="983.25" width="6" height="6"/><rect x="778.16" y="984.80" width="6" height="6"/><rect x="789.28" y="985.86" width="6" height="6"/><rect x="800.40" y="985.90" width="6" height="6"/><rect x="811.52" y="984.93" width="6" height="6"/><rect x="822.63" y="985.87" width="6" height="6"/><rect x="833.75" y="988.52" width="6" height="6"/><rect x="844.87" y="986.11" width="6" height="6"/><rect x="855.99" y="987.50" width="6" height="6"/><rect x="867.11" y="987.04" width="6" height="6"/><rect x="878.22" y="987.00" width="6" height="6"/><rect x="889.34" y="987.87" width="6" height="6"/><rect x="900.46" y="988.89" width="6" height="6"/><rect x="911.58" y="990.58" width="6" height="6"/><rect x="922.70" y="991.59" width="6" height="6"/><rect x="933.81" y="992.98" width="6" height="6"/><rect x="944.93" y="993.10" width="6" height="6"/><rect x="956.05" y="992.04" width="6" height="6"/><rect x="967.17" y="992.00" width="6" height="6"/><rect x="978.29" y="990.13" width="6" height="6"/><rect x="989.40" y="987.90" width="6" height="6"/><rect x="1000.52" y="986.85" width="6" height="6"/><rect x="1011.64" y="983.58" width="6" height="6"/><rect x="1022.76" y="977.84" width="6" height="6"/><rect x="1033.88" y="973.85" width="6" height="6"/><rect x="1044.99" y="968.26" width="6" height="6"/><rect x="1056.11" y="960.02" width="6" height="6"/><rect x="1067.23" y="955.12" width="6" height="6"/><rect x="1078.35" y="949.20" width="6" height="6"/><rect x="1089.47" y="946.86" width="6" height="6"/><rect x="1100.58" y="947.86" width="6" height="6"/><rect x="1111.70" y="942.60" width="6" height="6"/><rect x="1122.82" y="925.78" width="6" height="6"/><rect x="1133.94" y="899.59" width="6" height="6"/><rect x="1145.06" y="866.07" width="6" height="6"/><rect x="1156.17" y="825.16" width="6" height="6"/><rect x="1167.29" y="800.50" width="6" height="6"/><rect x="1178.41" y="802.00" width="6" height="6"/><rect x="1189.53" y="841.34" width="6" height="6"/><rect x="1200.65" y="885.59" width="6" height="6"/><rect x="1211.76" y="917.74" width="6" height="6"/><rect x="1222.88" y="934.25" width="6" height="6"/><rect x="1234.00" y="940.93" width="6" height="6"/><rect x="1245.12" y="942.91" width="6" height="6"/><rect x="1256.24" y="939.10" width="6" height="6"/><rect x="1267.35" y="933.43" width="6" height="6"/><rect x="1278.47" y="924.92" width="6" height="6"/><rect x="1289.59" y="912.28" width="6" height="6"/><rect x="1300.71" y="899.60" width="6" height="6"/><rect x="1311.83" y="889.22" width="6" height="6"/><rect x="1322.94" y="878.43" width="6" height="6"/><rect x="1334.06" y="868.26" width="6" height="6"/><rect x="1345.18" y="859.20" width="6" height="6"/><rect x="1356.30" y="853.07" width="6" height="6"/><rect x="1367.42" y="850.79" width="6" height="6"/><rect x="1378.53" y="851.65" width="6" height="6"/><rect x="1389.65" y="856.44" width="6" height="6"/><rect x="1400.77" y="865.14" width="6" height="6"/><rect x="1411.89" y="876.18" width="6" height="6"/><rect x="1423.01" y="885.86" width="6" height="6"/><rect x="1434.12" y="893.48" width="6" height="6"/><rect x="1445.24" y="899.46" width="6" height="6"/><rect x="1456.36" y="903.70" width="6" height="6"/><rect x="1467.48" y="909.80" width="6" height="6"/><rect x="1478.60" y="913.67" width="6" height="6"/><rect x="1489.71" y="915.86" width="6" height="6"/><rect x="1500.83" y="920.42" width="6" height="6"/><rect x="1511.95" y="925.24" width="6" height="6"/><rect x="1523.07" y="928.58" width="6" height="6"/><rect x="1534.19" y="930.46" width="6" height="6"/><rect x="1545.30" y="934.87" width="6" height="6"/><rect x="1556.42" y="938.73" width="6" height="6"/><rect x="1567.54" y="944.03" width="6" height="6"/><rect x="1578.66" y="951.18" width="6" height="6"/><rect x="1589.78" y="958.10" width="6" height="6"/><rect x="1600.89" y="966.25" width="6" height="6"/><rect x="1612.01" y="976.10" width="6" height="6"/><rect x="1623.13" y="986.12" width="6" height="6"/><rect x="1634.25" y="993.33" width="6" height="6"/><rect x="1645.37" y="998.66" width="6" height="6"/><rect x="1656.48" y="1000.79" width="6" height="6"/><rect x="1667.60" y="1003.67" width="6" height="6"/><rect x="1678.72" y="1005.69" width="6" height="6"/><rect x="1689.84" y="1006.29" width="6" height="6"/><rect x="1700.96" y="1007.67" width="6" height="6"/><rect x="1712.07" y="1008.44" width="6" height="6"/><rect x="1723.19" y="1009.60" width="6" height="6"/><rect x="1734.31" y="1009.70" width="6" height="6"/><rect x="1745.43" y="1009.70" width="6" height="6"/><rect x="1756.55" y="1010.64" width="6" height="6"/><rect x="1767.66" y="1012.06" width="6" height="6"/><rect x="1778.78" y="1012.20" width="6" height="6"/><rect x="1789.90" y="1012.85" width="6" height="6"/><rect x="1801.02" y="1013.65" width="6" height="6"/><rect x="1812.14" y="1013.70" width="6" height="6"/><rect x="1823.25" y="1012.90" width="6" height="6"/></g>
<rect x="118" y="744" width="5" height="564" fill="#000"/>
<rect x="1827" y="744" width="6" height="564" fill="#000"/>
<rect x="118" y="744" width="1714" height="5" fill="#000"/>
<rect x="118" y="1303" width="1715" height="5" fill="#000"/>
<rect x="288.95" y="1293" width="5" height="10" fill="#000"/><rect x="459.90" y="1283" width="5" height="20" fill="#000"/><rect x="630.85" y="1293" width="5" height="10" fill="#000"/><rect x="801.80" y="1283" width="5" height="20" fill="#000"/><rect x="972.75" y="1293" width="5" height="10" fill="#000"/><rect x="1143.70" y="1283" width="5" height="20" fill="#000"/><rect x="1314.65" y="1293" width="5" height="10" fill="#000"/><rect x="1485.60" y="1283" width="5" height="20" fill="#000"/><rect x="1656.55" y="1293" width="5" height="10" fill="#000"/>
<text transform="translate(125.37,155.26) scale(0.9496,1)" font-family="Carlito, Liberation Sans, sans-serif" font-weight="bold" font-size="87.21" fill="#fff" xml:space="preserve">(a)</text>
<text transform="translate(551.32,152.00) scale(0.9671,1)" font-family="Carlito, Liberation Sans, sans-serif" font-weight="normal" font-size="59.23" fill="#00ffff" stroke="#00ffff" stroke-width="0.4" stroke-linejoin="round" xml:space="preserve">MoSe2</text>
<text transform="translate(652.14,283.00) scale(0.9387,1)" font-family="Carlito, Liberation Sans, sans-serif" font-weight="normal" font-size="59.29" fill="#00ffff" stroke="#00ffff" stroke-width="0.4" stroke-linejoin="round" xml:space="preserve">WSe2</text>
<text transform="translate(650.03,582.90) scale(0.9208,1)" font-family="Carlito, Liberation Sans, sans-serif" font-weight="normal" font-size="43.08" fill="#fff" stroke="#fff" stroke-width="0.2" stroke-linejoin="round" xml:space="preserve">10</text>
<text transform="translate(701.19,583.98) scale(0.8976,1)" font-family="Carlito, Liberation Sans, sans-serif" font-weight="normal" font-size="44.38" fill="#fff" stroke="#fff" stroke-width="0.2" stroke-linejoin="round" xml:space="preserve">µm</text>
<text transform="translate(559.52,629.40) scale(1.1336,1)" font-family="Liberation Mono, monospace" font-weight="bold" font-size="13.64" fill="#fff" xml:space="preserve">10µm</text>
<text transform="translate(612.94,629.40) scale(1.1191,1)" font-family="Liberation Mono, monospace" font-weight="bold" font-size="13.64" fill="#fff" xml:space="preserve">JEOL</text>
<text transform="translate(693.42,629.40) scale(1.0737,1)" font-family="Liberation Mono, monospace" font-weight="bold" font-size="13.64" fill="#fff" xml:space="preserve">9/24/2021</text>
<text transform="translate(283.50,647.00) scale(1.1383,1)" font-family="Liberation Mono, monospace" font-weight="bold" font-size="13.03" fill="#fff" xml:space="preserve">X 2,000</text>
<text transform="translate(399.56,647.00) scale(1.1387,1)" font-family="Liberation Mono, monospace" font-weight="bold" font-size="13.03" fill="#fff" xml:space="preserve">15.0kV COMPO</text>
<text transform="translate(541.07,647.00) scale(1.2163,1)" font-family="Liberation Mono, monospace" font-weight="bold" font-size="13.03" fill="#fff" xml:space="preserve">NOR</text>
<text transform="translate(622.00,647.00) scale(1.1355,1)" font-family="Liberation Mono, monospace" font-weight="bold" font-size="13.03" fill="#fff" xml:space="preserve">WD 11.0mm 15:28:51</text>
<text transform="translate(903.26,88.88) scale(0.8918,1)" font-family="Liberation Sans, Arial, sans-serif" font-weight="normal" font-size="48.56" fill="#000" stroke="#000" stroke-width="0.8" stroke-linejoin="round" xml:space="preserve">0.003</text>
<text transform="translate(901.66,370.13) scale(0.8918,1)" font-family="Liberation Sans, Arial, sans-serif" font-weight="normal" font-size="48.56" fill="#000" stroke="#000" stroke-width="0.8" stroke-linejoin="round" xml:space="preserve">0.000</text>
<text transform="translate(887.72,647.63) scale(0.8918,1)" font-family="Liberation Sans, Arial, sans-serif" font-weight="normal" font-size="48.56" fill="#000" stroke="#000" stroke-width="0.8" stroke-linejoin="round" xml:space="preserve">-0.003</text>
<text transform="translate(1577.28,684.54) scale(0.9267,1)" font-family="Liberation Sans, Arial, sans-serif" font-weight="normal" font-size="46.20" fill="#000" stroke="#000" stroke-width="0.8" stroke-linejoin="round" xml:space="preserve">1500</text>
<text transform="translate(969.30,684.54) scale(0.9267,1)" font-family="Liberation Sans, Arial, sans-serif" font-weight="normal" font-size="46.20" fill="#000" stroke="#000" stroke-width="0.8" stroke-linejoin="round" xml:space="preserve">-3000</text>
<text transform="translate(1168.80,684.54) scale(0.9267,1)" font-family="Liberation Sans, Arial, sans-serif" font-weight="normal" font-size="46.20" fill="#000" stroke="#000" stroke-width="0.8" stroke-linejoin="round" xml:space="preserve">-1500</text>
<text transform="translate(1413.71,684.54) scale(0.9267,1)" font-family="Liberation Sans, Arial, sans-serif" font-weight="normal" font-size="46.20" fill="#000" stroke="#000" stroke-width="0.8" stroke-linejoin="round" xml:space="preserve">0</text>
<text transform="translate(1776.78,684.54) scale(0.9267,1)" font-family="Liberation Sans, Arial, sans-serif" font-weight="normal" font-size="46.20" fill="#000" stroke="#000" stroke-width="0.8" stroke-linejoin="round" xml:space="preserve">3000</text>
<text transform="translate(1341.37,730.46) scale(0.9765,1)" font-family="Liberation Sans, Arial, sans-serif" font-weight="normal" font-size="59.08" fill="#000" stroke="#000" stroke-width="0.8" stroke-linejoin="round" xml:space="preserve">H (Oe)</text>
<text transform="translate(897.96,491.14) rotate(-90) scale(0.9464,1)" font-family="Liberation Sans, Arial, sans-serif" font-weight="normal" font-size="61.10" fill="#000" stroke="#000" stroke-width="0.8" stroke-linejoin="round" xml:space="preserve">M (emu/g)</text>
<text transform="translate(1589.34,262.91) scale(0.9999,1)" font-family="Liberation Sans, Arial, sans-serif" font-weight="normal" font-size="57.78" fill="#000" stroke="#000" stroke-width="0.8" stroke-linejoin="round" xml:space="preserve">T=300 K</text>
<text transform="translate(1060.50,151.18) scale(1.0205,1)" font-family="Liberation Sans, Arial, sans-serif" font-weight="normal" font-size="88.19" fill="#000" stroke="#000" stroke-width="0.8" stroke-linejoin="round" xml:space="preserve">(b)</text>
<text transform="translate(1382.43,122.80) scale(0.9564,1)" font-family="Liberation Sans, Arial, sans-serif" font-weight="normal" font-size="38.84" fill="#000" stroke="#000" stroke-width="0.8" stroke-linejoin="round" xml:space="preserve">Magnetic Field Decrease</text>
<text transform="translate(1382.43,170.80) scale(0.9564,1)" font-family="Liberation Sans, Arial, sans-serif" font-weight="normal" font-size="38.84" fill="#000" stroke="#000" stroke-width="0.8" stroke-linejoin="round" xml:space="preserve">Magnetic Field Increase</text>
<text transform="translate(124.11,824.60) scale(1.0143,1)" font-family="Liberation Sans, Arial, sans-serif" font-weight="normal" font-size="88.76" fill="#000" stroke="#000" stroke-width="0.8" stroke-linejoin="round" xml:space="preserve">(c)</text>
<text transform="translate(73.14,1209.27) rotate(-90) scale(0.9513,1)" font-family="Liberation Sans, Arial, sans-serif" font-weight="normal" font-size="60.23" fill="#000" stroke="#000" stroke-width="0.8" stroke-linejoin="round" xml:space="preserve">Intensity (a.u.)</text>
<text transform="translate(734.51,1463.99) scale(0.9622,1)" font-family="Liberation Sans, Arial, sans-serif" font-weight="normal" font-size="59.57" fill="#000" stroke="#000" stroke-width="0.8" stroke-linejoin="round" xml:space="preserve">Raman shift (cm</text>
<text transform="translate(1158.42,1438.30) scale(1.0170,1)" font-family="Liberation Sans, Arial, sans-serif" font-weight="normal" font-size="38.84" fill="#000" stroke="#000" stroke-width="0.8" stroke-linejoin="round" xml:space="preserve">-1</text>
<text transform="translate(1196.11,1463.99) scale(1.0000,1)" font-family="Liberation Sans, Arial, sans-serif" font-weight="normal" font-size="59.59" fill="#000" stroke="#000" stroke-width="0.8" stroke-linejoin="round" xml:space="preserve">)</text>
<text transform="translate(900.20,820.61) scale(1.0519,1)" font-family="Liberation Sans, Arial, sans-serif" font-weight="normal" font-size="56.55" fill="#000" stroke="#000" stroke-width="0.8" stroke-linejoin="round" xml:space="preserve">WSe</text>
<text transform="translate(1029.02,837.50) scale(1.0061,1)" font-family="Liberation Sans, Arial, sans-serif" font-weight="normal" font-size="42.19" fill="#000" stroke="#000" stroke-width="0.8" stroke-linejoin="round" xml:space="preserve">2</text>
<text transform="translate(1066.50,821.90) scale(0.9712,1)" font-family="Liberation Sans, Arial, sans-serif" font-weight="normal" font-size="60.88" fill="#000" stroke="#000" stroke-width="0.8" stroke-linejoin="round" xml:space="preserve">A</text>
<text transform="translate(1108.76,838.23) scale(0.8703,1)" font-family="Liberation Sans, Arial, sans-serif" font-weight="normal" font-size="42.72" fill="#000" stroke="#000" stroke-width="0.8" stroke-linejoin="round" xml:space="preserve">1g</text>
<text transform="translate(1390.40,831.51) scale(1.0344,1)" font-family="Liberation Sans, Arial, sans-serif" font-weight="normal" font-size="56.96" fill="#000" stroke="#000" stroke-width="0.8" stroke-linejoin="round" xml:space="preserve">WSe</text>
<text transform="translate(1519.27,848.00) scale(0.9636,1)" font-family="Liberation Sans, Arial, sans-serif" font-weight="normal" font-size="41.15" fill="#000" stroke="#000" stroke-width="0.8" stroke-linejoin="round" xml:space="preserve">2</text>
<text transform="translate(1555.23,832.80) scale(0.9932,1)" font-family="Liberation Sans, Arial, sans-serif" font-weight="normal" font-size="59.71" fill="#000" stroke="#000" stroke-width="0.8" stroke-linejoin="round" xml:space="preserve">2LA</text>
<text transform="translate(555.75,1102.21) scale(1.0016,1)" font-family="Liberation Sans, Arial, sans-serif" font-weight="normal" font-size="57.78" fill="#000" stroke="#000" stroke-width="0.8" stroke-linejoin="round" xml:space="preserve">MoSe</text>
<text transform="translate(708.13,1118.30) scale(1.0015,1)" font-family="Liberation Sans, Arial, sans-serif" font-weight="normal" font-size="41.45" fill="#000" stroke="#000" stroke-width="0.8" stroke-linejoin="round" xml:space="preserve">2</text>
<text transform="translate(745.80,1103.20) scale(0.9562,1)" font-family="Liberation Sans, Arial, sans-serif" font-weight="normal" font-size="60.87" fill="#000" stroke="#000" stroke-width="0.8" stroke-linejoin="round" xml:space="preserve">A</text>
<text transform="translate(785.92,1119.15) scale(0.9124,1)" font-family="Liberation Sans, Arial, sans-serif" font-weight="normal" font-size="42.96" fill="#000" stroke="#000" stroke-width="0.8" stroke-linejoin="round" xml:space="preserve">1g</text>
<text transform="translate(762.99,1367.94) scale(0.9329,1)" font-family="Liberation Sans, Arial, sans-serif" font-weight="normal" font-size="51.43" fill="#000" stroke="#000" stroke-width="0.8" stroke-linejoin="round" xml:space="preserve">240</text>
<text transform="translate(79.09,1369.24) scale(0.9329,1)" font-family="Liberation Sans, Arial, sans-serif" font-weight="normal" font-size="51.43" fill="#000" stroke="#000" stroke-width="0.8" stroke-linejoin="round" xml:space="preserve">220</text>
<text transform="translate(420.69,1368.39) scale(0.9329,1)" font-family="Liberation Sans, Arial, sans-serif" font-weight="normal" font-size="51.43" fill="#000" stroke="#000" stroke-width="0.8" stroke-linejoin="round" xml:space="preserve">230</text>
<text transform="translate(1104.49,1368.39) scale(0.9329,1)" font-family="Liberation Sans, Arial, sans-serif" font-weight="normal" font-size="51.43" fill="#000" stroke="#000" stroke-width="0.8" stroke-linejoin="round" xml:space="preserve">250</text>
<text transform="translate(1446.39,1368.39) scale(0.9329,1)" font-family="Liberation Sans, Arial, sans-serif" font-weight="normal" font-size="51.43" fill="#000" stroke="#000" stroke-width="0.8" stroke-linejoin="round" xml:space="preserve">260</text>
<text transform="translate(1788.59,1369.24) scale(0.9329,1)" font-family="Liberation Sans, Arial, sans-serif" font-weight="normal" font-size="51.43" fill="#000" stroke="#000" stroke-width="0.8" stroke-linejoin="round" xml:space="preserve">270</text>
</svg>
</body></html>
